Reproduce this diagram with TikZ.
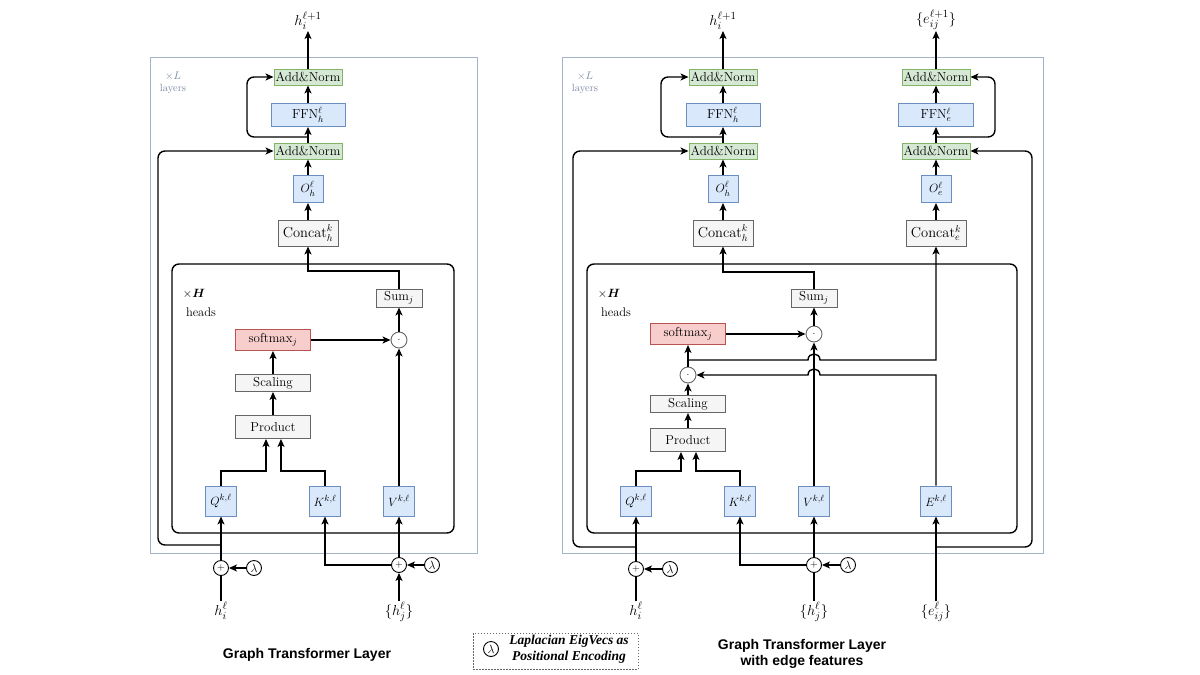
\documentclass[tikz,border=0pt]{standalone}
\usepackage{amsmath,amssymb}
\usepackage{fontspec}
\usetikzlibrary{arrows.meta}
\newfontfamily\ttlfont{Liberation Sans}
\newfontfamily\lgfont{Liberation Serif}
\definecolor{gfill}{HTML}{D5E8D4}
\definecolor{gdraw}{HTML}{82B366}
\definecolor{bfill}{HTML}{DAE8FC}
\definecolor{bdraw}{HTML}{6C8EBF}
\definecolor{grfill}{HTML}{F5F5F5}
\definecolor{grdraw}{HTML}{666666}
\definecolor{rfill}{HTML}{F8CECC}
\definecolor{rdraw}{HTML}{B85450}
\definecolor{framec}{HTML}{A3B3CA}
\definecolor{layc}{HTML}{7A8AA6}
\begin{document}
\begin{tikzpicture}[x=1pt,y={(0pt,-1pt)},
  box/.style={draw, line width=0.9pt, inner sep=0pt, font=\fontsize{12.5}{14}\selectfont},
  anbox/.style={box, fill=gfill, draw=gdraw, minimum width=68pt, minimum height=16pt, font=\fontsize{13}{14}\selectfont},
  bbox/.style={box, fill=bfill, draw=bdraw},
  gbox/.style={box, fill=grfill, draw=grdraw},
  rbox/.style={box, fill=rfill, draw=rdraw},
  ffnbox/.style={bbox, minimum width=74pt, minimum height=23pt, font=\fontsize{13}{14}\selectfont},
  obox/.style={bbox, minimum width=30pt, minimum height=27pt, font=\fontsize{13}{14}\selectfont},
  inbox/.style={bbox, minimum width=31pt, minimum height=30pt, font=\fontsize{13}{14}\selectfont},
  catbox/.style={gbox, minimum width=60pt, minimum height=26pt, font=\fontsize{14.5}{15}\selectfont},
  opbox/.style={gbox, minimum width=75pt, font=\fontsize{13}{14}\selectfont},
  sumbox/.style={gbox, minimum width=46pt, minimum height=18pt, font=\fontsize{13}{14}\selectfont},
  dotc/.style={circle, draw=grdraw, line width=0.9pt, fill=white, minimum size=16pt, inner sep=0pt},
  plusc/.style={circle, draw=black, line width=0.9pt, fill=white, minimum size=15pt, inner sep=0pt, font=\fontsize{10}{10}\selectfont},
  lamc/.style={circle, draw=black, line width=0.9pt, fill=white, minimum size=15pt, inner sep=0pt, font=\fontsize{11.5}{11}\selectfont},
  lbl/.style={inner sep=1pt, font=\fontsize{15}{17}\selectfont},
  laytxt/.style={inner sep=0pt, text=layc, font=\fontsize{10.5}{12}\selectfont},
  headtxt/.style={inner sep=0pt, font=\fontsize{12.5}{14}\selectfont},
  con/.style={line width=1.4pt, black},
  arr/.style={con, -{Stealth[length=8pt,width=7pt,inset=2pt]}},
  framebox/.style={draw=framec, line width=1pt},
  headbox/.style={draw=black, line width=1.4pt, rounded corners=7pt},
  rc/.style={rounded corners=7pt}
]
\useasboundingbox[fill=white] (0,0) rectangle (1200,675);

%================ LEFT DIAGRAM =================
\draw[framebox] (150,57) rectangle (477,553);
\node[laytxt] (LxL) at (173,76) {$\times L$};
\node[laytxt] (Llay) at (173,89) {layers};
\draw[headbox] (172,264) rectangle (454,533);
\node[headtxt] (LxH) at (194,294) {$\times\boldsymbol{H}$};
\node[headtxt] (Lheads) at (201,312) {heads};

\node[lbl, anchor=south] (Lout) at (308,31) {$h_i^{\ell+1}$};
\node[anbox] (Lan2) at (308,77) {Add\&Norm};
\node[ffnbox] (Lffn) at (308,115) {FFN$_h^{\ell}$};
\node[anbox] (Lan1) at (308,151) {Add\&Norm};
\node[obox] (Loh) at (308,189) {$O_h^{\ell}$};
\node[catbox] (Lcat) at (308,233) {Concat$_h^k$};
\node[sumbox] (Lsum) at (399,298) {Sum$_j$};
\node[dotc] (Ldot) at (399,340) {$\cdot$};
\node[rbox, minimum width=75pt, minimum height=21pt, font=\fontsize{13}{14}\selectfont] (Lsm) at (273,340) {softmax$_j$};
\node[opbox, minimum height=17pt] (Lsc) at (273,383) {Scaling};
\node[opbox, minimum height=23pt] (Lpr) at (273,427) {Product};
\node[inbox] (Lq) at (221,501) {$Q^{k,\ell}$};
\node[inbox] (Lk) at (325,501) {$K^{k,\ell}$};
\node[inbox] (Lv) at (399,501) {$V^{k,\ell}$};
\node[plusc] (Lpi) at (221,568) {$+$};
\node[lamc] (Lli) at (254,568) {$\lambda$};
\node[plusc] (Lpj) at (399,565) {$+$};
\node[lamc] (Llj) at (432,565) {$\lambda$};
\node[lbl, anchor=north] (Lhi) at (221,601) {$h_i^{\ell}$};
\node[lbl, anchor=north] (Lhj) at (399,601) {$\{h_j^{\ell}\}$};
\node[inner sep=0pt, font=\ttlfont\bfseries\fontsize{14}{16}\selectfont] (Ltitle) at (307,655) {Graph Transformer Layer};

\coordinate (Lloop) at (308,137);
\coordinate (Lqin) at (266,471);
\coordinate (Lkin) at (281,471);
\coordinate (Lsumt) at (399,271);
\coordinate (Lbr) at (221,545);

\draw[arr] (Lan2.north) -- (Lout.south);
\draw[arr] (Lffn.north) -- (Lan2.south);
\draw[arr] (Lan1.north) -- (Lffn.south);
\draw[arr, rc] (Lloop) -- (247,137) -- (247,77) -- (Lan2.west);
\draw[arr] (Loh.north) -- (Lan1.south);
\draw[arr] (Lcat.north) -- (Loh.south);
\draw[arr] (Lsum.north) -- (Lsumt) -- (Lsumt -| Lcat.south) -- (Lcat.south);
\draw[arr] (Ldot.north) -- (Lsum.south);
\draw[arr] (Lsm.east) -- (Ldot.west);
\draw[arr] (Lv.north) -- (Ldot.south);
\draw[arr] (Lsc.north) -- (Lsm.south);
\draw[arr] (Lpr.north) -- (Lsc.south);
\draw[arr] (Lq.north) |- (Lqin) -- (Lqin |- Lpr.south);
\draw[arr] (Lk.north) |- (Lkin) -- (Lkin |- Lpr.south);
\draw[arr] (Lpi.north) -- (Lq.south);
\draw[arr] (Lli.west) -- (Lpi.east);
\draw[con] (Lhi.north) -- (Lpi.south);
\draw[arr] (Lpj.north) -- (Lv.south);
\draw[arr] (Lpj.west) -| (Lk.south);
\draw[arr] (Llj.west) -- (Lpj.east);
\draw[arr] (Lhj.north) -- (Lpj.south);
\draw[arr, rc] (Lbr) -- (158,545) -- (158,151) -- (Lan1.west);

%================ RIGHT DIAGRAM =================
\draw[framebox] (562,57) rectangle (1043,553);
\node[laytxt] (RxL) at (585,76) {$\times L$};
\node[laytxt] (Rlay) at (585,89) {layers};
\draw[headbox] (587,264) rectangle (1017,533);
\node[headtxt] (RxH) at (609,294) {$\times\boldsymbol{H}$};
\node[headtxt] (Rheads) at (616,312) {heads};

\node[lbl, anchor=south] (Rout) at (723,31) {$h_i^{\ell+1}$};
\node[anbox] (Ran2) at (723,77) {Add\&Norm};
\node[ffnbox] (Rffn) at (723,115) {FFN$_h^{\ell}$};
\node[anbox] (Ran1) at (723,151) {Add\&Norm};
\node[obox] (Roh) at (723,189) {$O_h^{\ell}$};
\node[catbox] (Rcat) at (723,233) {Concat$_h^k$};

\node[lbl, anchor=south] (Eout) at (936,31) {$\{e_{ij}^{\ell+1}\}$};
\node[anbox] (Ean2) at (936,77) {Add\&Norm};
\node[ffnbox, minimum width=75pt] (Effn) at (936,115) {FFN$_e^{\ell}$};
\node[anbox] (Ean1) at (936,151) {Add\&Norm};
\node[obox] (Eoe) at (936,189) {$O_e^{\ell}$};
\node[catbox] (Ecat) at (936,233) {Concat$_e^k$};

\node[sumbox] (Rsum) at (814,298) {Sum$_j$};
\node[dotc] (Rdot1) at (814,334) {$\cdot$};
\node[rbox, minimum width=75pt, minimum height=21pt, font=\fontsize{13}{14}\selectfont] (Rsm) at (688,334) {softmax$_j$};
\node[dotc] (Rdot2) at (688,375) {$\cdot$};
\node[opbox, minimum height=17pt] (Rsc) at (688,404) {Scaling};
\node[opbox, minimum height=23pt] (Rpr) at (688,440) {Product};
\node[inbox] (Rq) at (636,501) {$Q^{k,\ell}$};
\node[inbox] (Rk) at (740,501) {$K^{k,\ell}$};
\node[inbox] (Rv) at (814,501) {$V^{k,\ell}$};
\node[inbox] (Re) at (936,501) {$E^{k,\ell}$};
\node[plusc] (Rpi) at (636,569) {$+$};
\node[lamc] (Rli) at (670,569) {$\lambda$};
\node[plusc] (Rpj) at (814,565) {$+$};
\node[lamc] (Rlj) at (848,565) {$\lambda$};
\node[lbl, anchor=north] (Rhi) at (636,601) {$h_i^{\ell}$};
\node[lbl, anchor=north] (Rhj) at (814,601) {$\{h_j^{\ell}\}$};
\node[lbl, anchor=north] (Reij) at (936,601) {$\{e_{ij}^{\ell}\}$};
\node[inner sep=0pt, align=center, font=\ttlfont\bfseries\fontsize{14}{16}\selectfont] (Rtitle) at (802,654) {Graph Transformer Layer\\with edge features};

\coordinate (Rloop) at (723,137);
\coordinate (Eloop) at (936,137);
\coordinate (Rqin) at (681,471);
\coordinate (Rkin) at (696,471);
\coordinate (Rsumt) at (814,272);
\coordinate (Rbr) at (636,547);
\coordinate (Ebr) at (936,547);
\coordinate (Rsplit) at (688,360);
\coordinate (Eturn) at (936,375);

\draw[arr] (Ran2.north) -- (Rout.south);
\draw[arr] (Rffn.north) -- (Ran2.south);
\draw[arr] (Ran1.north) -- (Rffn.south);
\draw[arr, rc] (Rloop) -- (661,137) -- (661,77) -- (Ran2.west);
\draw[arr] (Roh.north) -- (Ran1.south);
\draw[arr] (Rcat.north) -- (Roh.south);

\draw[arr] (Ean2.north) -- (Eout.south);
\draw[arr] (Effn.north) -- (Ean2.south);
\draw[arr] (Ean1.north) -- (Effn.south);
\draw[arr, rc] (Eloop) -- (995,137) -- (995,77) -- (Ean2.east);
\draw[arr] (Eoe.north) -- (Ean1.south);
\draw[arr] (Ecat.north) -- (Eoe.south);

\draw[arr] (Rsum.north) -- (Rsumt) -- (Rsumt -| Rcat.south) -- (Rcat.south);
\draw[arr] (Rdot1.north) -- (Rsum.south);
\draw[arr] (Rsm.east) -- (Rdot1.west);
\draw[arr] (Rv.north) -- (Rdot1.south);
\draw[arr] (Rdot2.north) -- (Rsm.south);
\draw[arr] (Rsplit) -- (808,360) .. controls (808,352) and (820,352) .. (820,360) -- (Rsplit -| Ecat.south) -- (Ecat.south);
\draw[arr] (Re.north) -- (Eturn) -- (820,375) .. controls (820,367) and (808,367) .. (808,375) -- (Rdot2.east);
\draw[arr] (Rsc.north) -- (Rdot2.south);
\draw[arr] (Rpr.north) -- (Rsc.south);
\draw[arr] (Rq.north) |- (Rqin) -- (Rqin |- Rpr.south);
\draw[arr] (Rk.north) |- (Rkin) -- (Rkin |- Rpr.south);
\draw[arr] (Rpi.north) -- (Rq.south);
\draw[arr] (Rli.west) -- (Rpi.east);
\draw[con] (Rhi.north) -- (Rpi.south);
\draw[arr] (Rpj.north) -- (Rv.south);
\draw[arr] (Rpj.west) -| (Rk.south);
\draw[arr] (Rlj.west) -- (Rpj.east);
\draw[con] (Rhj.north) -- (Rpj.south);
\draw[arr] (Reij.north) -- (Re.south);
\draw[arr, rc] (Rbr) -- (573,547) -- (573,151) -- (Ran1.west);
\draw[arr, rc] (Ebr) -- (1032,547) -- (1032,151) -- (Ean1.east);

%================ LEGEND =================
\draw[draw=grdraw, line width=0.9pt, dash pattern=on 1.5pt off 1.5pt] (473,633) rectangle (638,669);
\node[lamc] (Glam) at (491,649) {$\lambda$};
\node[inner sep=0pt, align=center, font=\lgfont\bfseries\itshape\fontsize{13.5}{16}\selectfont] (Gtxt) at (569,649) {Laplacian EigVecs as\\Positional Encoding};
\end{tikzpicture}
\end{document}
